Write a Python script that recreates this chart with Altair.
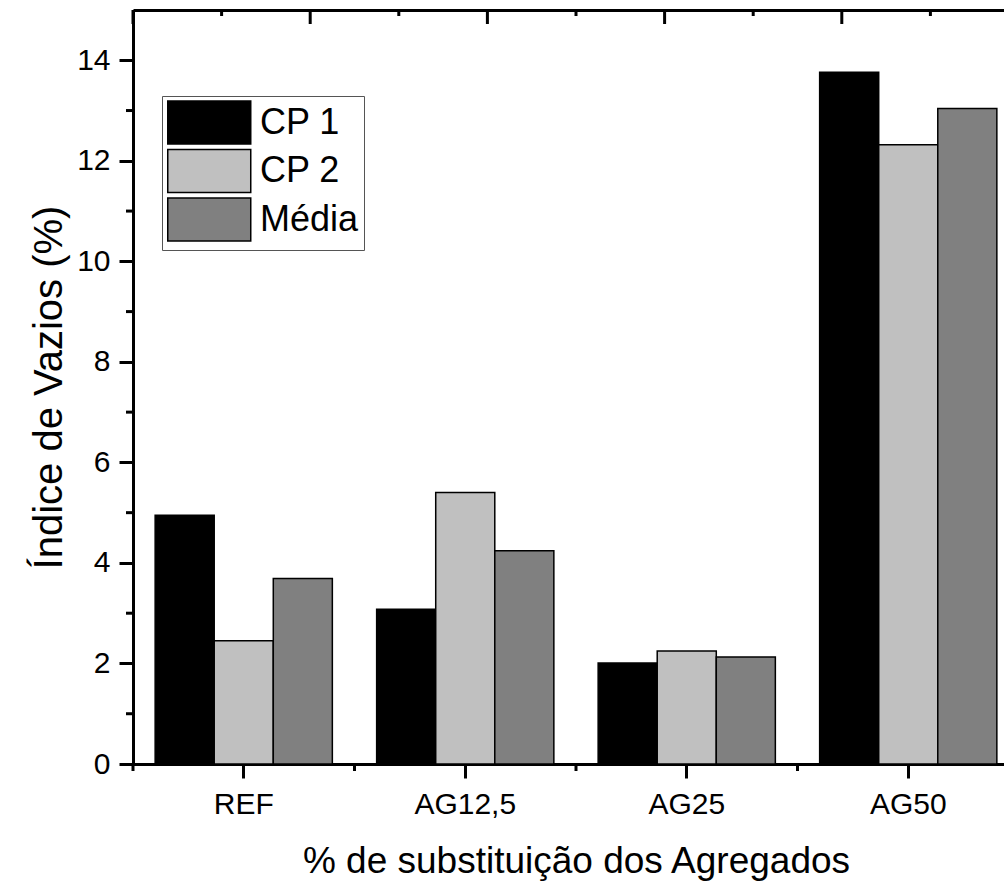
import altair as alt
import pandas as pd

# ---------------- data ----------------
categories = ["REF", "AG12,5", "AG25", "AG50"]
series = ["CP 1", "CP 2", "Média"]
cp1 = [4.95, 3.08, 2.01, 13.76]
cp2 = [2.45, 5.40, 2.25, 12.32]
media = [3.69, 4.24, 2.13, 13.04]
colors = ["#000000", "#c0c0c0", "#808080"]

y_major = [0, 2, 4, 6, 8, 10, 12, 14]
y_minor = [1, 3, 5, 7, 9, 11, 13]
top_major = [0, 1, 2, 3, 4, 5]          # mirrored top axis (5 intervals over the frame)
top_minor = [0.5, 1.5, 2.5, 3.5, 4.5]

FONT = "Liberation Sans"

# ---------------- layout ----------------
FULL_W = 886   # width of the full frame (its right part is cut by the window)
W = 871        # visible plot width
H = 754

n = len(categories)
step = FULL_W / n
pin = 0.2
pout = (W / step - (n - pin)) / 2
leftover = W - step * (n - pin)
band_align = (step * pin / 2) / leftover

xmin = -0.5
xmax = -0.5 + n * W / FULL_W

rows = []
for s, vals in zip(series, [cp1, cp2, media]):
    for c, v in zip(categories, vals):
        rows.append({"cat": c, "serie": s, "valor": v})
df = pd.DataFrame(rows)

top_major_df = pd.DataFrame({"x": [xmin + v * n / 5 for v in top_major]})
top_major_df = top_major_df[top_major_df.x <= xmax]
top_minor_df = pd.DataFrame({"x": [xmin + v * n / 5 for v in top_minor]})
top_minor_df = top_minor_df[top_minor_df.x <= xmax]
bot_minor_df = pd.DataFrame({"x": [i - 0.5 for i in range(n)]})
y_minor_df = pd.DataFrame({"v": y_minor})

qscale = alt.Scale(domain=[xmin, xmax], nice=False, zero=False)
yscale = alt.Scale(domain=[0, 15], nice=False, zero=True)

# wide legend swatch: path spans 4x2.08 units, scaled by sqrt(size)/2
SWATCH = "M-1,-1.04H3V1.04H-1Z"

bars = alt.Chart(df).mark_bar(stroke="black", strokeWidth=1.5).encode(
    x=alt.X(
        "cat:N",
        sort=categories,
        scale=alt.Scale(paddingInner=pin, paddingOuter=pout, align=band_align, round=False),
        axis=alt.Axis(
            orient="bottom",
            title="% de substituição dos Agregados",
            labelAngle=0,
            labelFontSize=30,
            labelBaseline="alphabetic",
            labelPadding=35,
            tickSize=14,
            tickWidth=3,
            domainWidth=3,
            titleFontSize=37,
            titleFontWeight="normal",
            titleX=FULL_W / 2,
            titleY=108,
            titleBaseline="alphabetic",
        ),
    ),
    xOffset=alt.XOffset("serie:N", sort=series, scale=alt.Scale(paddingInner=0, paddingOuter=0)),
    y=alt.Y(
        "valor:Q",
        scale=yscale,
        axis=alt.Axis(
            orient="left",
            values=y_major,
            title="Índice de Vazios (%)",
            labelFontSize=30,
            labelPadding=9,
            labelBaseline="middle",
            tickSize=14,
            tickWidth=3,
            domainWidth=3,
            titleFontSize=40,
            titleFontWeight="normal",
            titleAngle=-90,
            titleX=-72,
            titleY=H / 2,
            titleBaseline="alphabetic",
            titleAlign="center",
        ),
    ),
    color=alt.Color(
        "serie:N",
        sort=series,
        scale=alt.Scale(domain=series, range=colors),
        legend=alt.Legend(
            orient="none",
            legendX=29,
            legendY=86,
            title=None,
            symbolType=SWATCH,
            symbolSize=1722,
            symbolStrokeColor="black",
            symbolStrokeWidth=1.5,
            symbolOpacity=1,
            labelFontSize=36,
            labelOffset=50,
            rowPadding=-2.5,
            padding=5,
            strokeColor="#555555",
            fillColor="white",
        ),
    ),
)

top_major_ticks = alt.Chart(top_major_df).mark_rule(color="black", strokeWidth=3).encode(
    x=alt.X("x:Q", scale=qscale,
            axis=alt.Axis(orient="top", ticks=False, labels=False, domain=True,
                          domainWidth=3, title=None, grid=False)),
    y=alt.value(0),
    y2=alt.value(14),
)
top_minor_ticks = alt.Chart(top_minor_df).mark_rule(color="black", strokeWidth=3).encode(
    x=alt.X("x:Q", scale=qscale, axis=None),
    y=alt.value(0),
    y2=alt.value(6),
)
bot_minor_ticks = alt.Chart(bot_minor_df).mark_rule(color="black", strokeWidth=3).encode(
    x=alt.X("x:Q", scale=qscale, axis=None),
    y=alt.value(H),
    y2=alt.value(H + 7),
)
y_minor_ticks = alt.Chart(y_minor_df).mark_rule(color="black", strokeWidth=3).encode(
    y=alt.Y("v:Q", scale=yscale, axis=None),
    x=alt.value(-7),
    x2=alt.value(0),
)

chart = (
    alt.layer(bars, top_major_ticks, top_minor_ticks, bot_minor_ticks, y_minor_ticks)
    .resolve_scale(x="independent", y="independent")
    .properties(
        width=W,
        height=H,
        autosize=alt.AutoSizeParams(type="none"),
        padding={"left": 133, "top": 10, "right": 0, "bottom": 118},
        background="white",
    )
    .configure_view(stroke=None)
    .configure_axis(
        grid=False,
        labelColor="black",
        titleColor="black",
        domainColor="black",
        tickColor="black",
        labelFont=FONT,
        titleFont=FONT,
    )
    .configure_legend(labelFont=FONT, labelColor="black", labelLimit=300)
)

chart.save("out.html", embed_options={"renderer": "svg", "actions": False})
